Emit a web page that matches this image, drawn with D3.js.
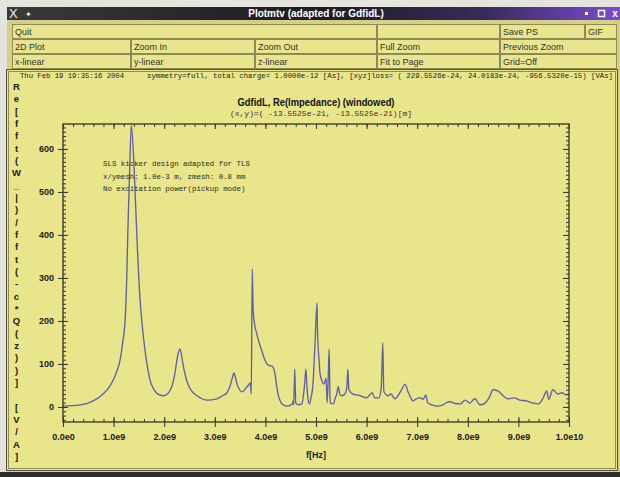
<!DOCTYPE html>
<html>
<head>
<meta charset="utf-8">
<script src="https://cdn.jsdelivr.net/npm/d3@7"></script>
<style>
  body { margin: 0; background: #e4e4dc; }
  svg { display: block; }
</style>
</head>
<body>
<svg id="chart" width="620" height="477"></svg>
<script>
// Re(Impedance), frequency in GHz, value in V/A
const freqGHz = [0.00, 0.20, 0.34, 0.50, 0.59, 0.70, 0.79, 0.90, 0.99, 1.06, 1.13, 1.18, 1.23, 1.26, 1.28, 1.30, 1.32, 1.35,
  1.40, 1.44, 1.47, 1.52, 1.57, 1.62, 1.67, 1.72, 1.79, 1.86, 1.98, 2.05, 2.11, 2.17, 2.21, 2.26, 2.31, 2.34, 2.37, 2.42,
  2.47, 2.55, 2.65, 2.85, 3.04, 3.15, 3.24, 3.30, 3.34, 3.38, 3.41, 3.44, 3.49, 3.54, 3.60, 3.66, 3.70, 3.72, 3.74, 3.76,
  3.79, 3.83, 3.88, 3.93, 3.98, 4.03, 4.08, 4.13, 4.19, 4.22, 4.25, 4.29, 4.33, 4.43, 4.53, 4.55, 4.56, 4.58, 4.60, 4.66,
  4.72, 4.76, 4.78, 4.80, 4.82, 4.84, 4.87, 4.90, 4.94, 4.98, 5.02, 5.03, 5.06, 5.08, 5.12, 5.15, 5.18, 5.20, 5.22, 5.24,
  5.26, 5.28, 5.34, 5.38, 5.41, 5.44, 5.47, 5.51, 5.57, 5.61, 5.63, 5.65, 5.73, 5.80, 5.87, 6.00, 6.06, 6.11, 6.16, 6.24,
  6.29, 6.32, 6.34, 6.42, 6.48, 6.56, 6.62, 6.70, 6.76, 6.82, 6.88, 6.92, 6.98, 7.06, 7.12, 7.17, 7.21, 7.29, 7.40, 7.51,
  7.58, 7.65, 7.75, 7.85, 7.95, 8.04, 8.14, 8.24, 8.34, 8.42, 8.50, 8.60, 8.70, 8.79, 8.92, 9.03, 9.16, 9.29, 9.39, 9.49,
  9.56, 9.60, 9.68, 9.78, 9.86, 9.94, 10.00];
const reImpedance = [2, 3, 5, 9, 14, 21, 30, 44, 62, 82, 110, 150, 207, 300, 400, 485, 560, 655,
  570, 455, 370, 255, 185, 132, 92, 62, 42, 31, 26, 29, 37, 55, 77, 115, 135, 122, 100, 72,
  53, 36, 26, 16, 19, 26, 33, 48, 65, 79, 68, 53, 40, 35, 42, 50, 56, 30, 321, 220,
  190, 170, 148, 130, 112, 100, 96, 95, 77, 50, 30, 15, 7, 2, 7, 14, 5, 88, 9, 5,
  7, 35, 60, 88, 50, 21, 7, 20, 53, 147, 242, 175, 110, 77, 60, 53, 60, 67, 10, 60,
  135, 10, 7, 20, 30, 47, 30, 26, 30, 45, 88, 40, 30, 28, 26, 21, 28, 33, 21, 21,
  45, 149, 37, 26, 30, 19, 26, 42, 53, 35, 20, 14, 19, 21, 18, 28, 9, 5, 2, 5,
  10, 12, 8, 7, 16, 9, 19, 5, 9, 21, 40, 37, 26, 19, 21, 16, 14, 9, 7, 21,
  37, 18, 40, 30, 33, 28, 30];

const xTickValues = [0, 1, 2, 3, 4, 5, 6, 7, 8, 9, 10];
const xTickLabels = ["0.0e0", "1.0e9", "2.0e9", "3.0e9", "4.0e9", "5.0e9", "6.0e9", "7.0e9", "8.0e9", "9.0e9", "1.0e10"];
const yTickValues = [0, 100, 200, 300, 400, 500, 600];

const yLabel = "Re[fft(W_|)/fft(-c*Q(z))] [V/A]";
const title = "GdfidL, Re(Impedance) (windowed)";
const subTitle = "(x,y)=( -13.5525e-21, -13.5525e-21)[m]";
const infoDate = "Thu Feb 19 19:35:16 2004";
const infoRun = "symmetry=full, total charge= 1.0000e-12 [As], [xyz]loss= ( 229.5526e-24, 24.0183e-24, -956.5320e-15) [VAs]";
const notes = ["SLS kicker design adapted for TLS", "x/ymesh: 1.0e-3 m, zmesh: 0.8 mm", "No excitation power(pickup mode)"];

const menuRows = [
  [["Quit", 12, 377], ["", 377, 500], ["Save PS", 500, 585], ["GIF", 585, 617]],
  [["2D Plot", 12, 131], ["Zoom In", 131, 255], ["Zoom Out", 255, 377], ["Full Zoom", 377, 500], ["Previous Zoom", 500, 617]],
  [["x-linear", 12, 131], ["y-linear", 131, 255], ["z-linear", 255, 377], ["Fit to Page", 377, 500], ["Grid=Off", 500, 617]]
];

const svg = d3.select("#chart");
const mono = "'Liberation Mono', 'DejaVu Sans Mono', monospace";
const sans = "'Liberation Sans', Arial, sans-serif";

// window frame
svg.append("rect").attr("x", 7).attr("y", 7).attr("width", 613).attr("height", 470).attr("fill", "#d4d184");

const grad = svg.append("defs").append("linearGradient").attr("id", "tb");
grad.append("stop").attr("offset", "0").attr("stop-color", "#3a3a3a");
grad.append("stop").attr("offset", "0.5").attr("stop-color", "#1c1c22");
grad.append("stop").attr("offset", "0.78").attr("stop-color", "#3a2a5c");
grad.append("stop").attr("offset", "1").attr("stop-color", "#7a4cd0");
svg.append("rect").attr("x", 7).attr("y", 7).attr("width", 613).attr("height", 13).attr("fill", "url(#tb)");
svg.append("text").attr("x", 9).attr("y", 18).attr("fill", "#f0f0f0")
  .style("font", `13px ${sans}`).text("X");
svg.append("text").attr("x", 25).attr("y", 17).attr("fill", "#f0f0f0")
  .style("font", `8px ${sans}`).text("✦");
svg.append("text").attr("x", 316).attr("y", 17).attr("fill", "#ffffff").attr("text-anchor", "middle")
  .style("font", `bold 10px ${sans}`).text("Plotmtv (adapted for GdfidL)");
svg.append("rect").attr("x", 585).attr("y", 12).attr("width", 3).attr("height", 3).attr("fill", "#fff");
svg.append("rect").attr("x", 598.5).attr("y", 10.5).attr("width", 6).attr("height", 6)
  .attr("fill", "none").attr("stroke", "#fff").attr("stroke-width", 1.5);
svg.append("text").attr("x", 615).attr("y", 17).attr("fill", "#fff").attr("text-anchor", "middle")
  .style("font", `bold 10px ${sans}`).text("x");

// menu buttons
const rowTop = [24, 39, 54];
menuRows.forEach((row, i) => {
  const g = svg.append("g");
  g.selectAll("rect").data(row).join("rect")
    .attr("x", d => d[1] + 0.5).attr("y", rowTop[i] + 0.5)
    .attr("width", d => d[2] - d[1] - 1).attr("height", 14)
    .attr("fill", "#e8e58e").attr("stroke", "#8d8a55");
  g.selectAll("text").data(row).join("text")
    .attr("x", d => d[1] + 3).attr("y", rowTop[i] + 11)
    .attr("fill", "#33332a").style("font", `9px ${sans}`)
    .text(d => d[0]);
});

// plot panel
svg.append("rect").attr("x", 6.5).attr("y", 69.5).attr("width", 611).attr("height", 401)
  .attr("fill", "#e8e58a").attr("stroke", "#55553a");
svg.append("rect").attr("x", 8.5).attr("y", 71.5).attr("width", 607).attr("height", 397)
  .attr("fill", "none").attr("stroke", "#8f8c5c");
svg.append("rect").attr("x", 0).attr("y", 472).attr("width", 620).attr("height", 5).attr("fill", "#2c2c28");

svg.append("text").attr("x", 20).attr("y", 78).attr("textLength", 104).attr("lengthAdjust", "spacingAndGlyphs")
  .attr("fill", "#222").style("font", `7.3px ${mono}`).text(infoDate);
svg.append("text").attr("x", 147).attr("y", 78).attr("textLength", 466).attr("lengthAdjust", "spacingAndGlyphs")
  .attr("fill", "#222").style("font", `7.3px ${mono}`).text(infoRun);

// vertical stacked y label
svg.append("g").selectAll("text").data(yLabel.split(""))
  .join("text")
  .attr("x", 16.5).attr("y", (d, i) => 90 + i * 12.33)
  .attr("text-anchor", "middle").attr("fill", "#1a1a1a")
  .style("font", `bold 9.5px ${sans}`)
  .text(d => d);

svg.append("text").attr("x", 316).attr("y", 106).attr("text-anchor", "middle")
  .attr("textLength", 157).attr("lengthAdjust", "spacingAndGlyphs")
  .attr("fill", "#111").style("font", `bold 10px ${sans}`).text(title);
svg.append("text").attr("x", 321).attr("y", 116).attr("text-anchor", "middle")
  .attr("textLength", 182).attr("lengthAdjust", "spacingAndGlyphs")
  .attr("fill", "#333").style("font", `7.5px ${mono}`).text(subTitle);

// scales
const x = d3.scaleLinear().domain([0, 10]).range([63, 569]);
const y = d3.scaleLinear().domain([-35, 658]).range([422, 124]);

svg.append("defs").append("clipPath").attr("id", "clip")
  .append("rect").attr("x", 63).attr("y", 124).attr("width", 506).attr("height", 298);

const data = freqGHz.map((f, i) => [f, reImpedance[i]]);
svg.append("path").datum(data)
  .attr("clip-path", "url(#clip)")
  .attr("fill", "none").attr("stroke", "#6060aa").attr("stroke-width", 1.35)
  .attr("stroke-linejoin", "round")
  .attr("d", d3.line().x(d => x(d[0])).y(d => y(d[1])).curve(d3.curveMonotoneX));

// frame
svg.append("rect").attr("x", 63).attr("y", 124).attr("width", 506).attr("height", 298)
  .attr("fill", "none").attr("stroke", "#222").attr("stroke-width", 1.2);

const xMinor = d3.range(0, 10.01, 0.2);
const yMinor = d3.range(-30, 651, 10);
const tickColor = "#333";

function styleAxis(g) {
  g.select(".domain").remove();
  g.selectAll("line").attr("stroke", tickColor);
}

// minor ticks (inward)
svg.append("g").attr("transform", "translate(0,422)")
  .call(d3.axisTop(x).tickValues(xMinor).tickSize(3).tickFormat("")).call(styleAxis);
svg.append("g").attr("transform", "translate(0,124)")
  .call(d3.axisBottom(x).tickValues(xMinor).tickSize(3).tickFormat("")).call(styleAxis);
svg.append("g").attr("transform", "translate(63,0)")
  .call(d3.axisRight(y).tickValues(yMinor).tickSize(3).tickFormat("")).call(styleAxis);
svg.append("g").attr("transform", "translate(569,0)")
  .call(d3.axisLeft(y).tickValues(yMinor).tickSize(3).tickFormat("")).call(styleAxis);

// major ticks with labels
const bottomAxis = svg.append("g").attr("transform", "translate(0,422)")
  .call(d3.axisBottom(x).tickValues(xTickValues).tickSize(5).tickPadding(7)
    .tickFormat((d, i) => xTickLabels[i]))
  .call(styleAxis);
bottomAxis.selectAll("line").attr("y1", -5);
bottomAxis.selectAll("text").attr("fill", "#1a1a1a").style("font", `bold 9px ${sans}`);

const leftAxis = svg.append("g").attr("transform", "translate(63,0)")
  .call(d3.axisLeft(y).tickValues(yTickValues).tickSize(5).tickPadding(4))
  .call(styleAxis);
leftAxis.selectAll("line").attr("x1", 5);
leftAxis.selectAll("text").attr("fill", "#1a1a1a").style("font", `bold 9px ${sans}`);

svg.append("g").attr("transform", "translate(0,124)")
  .call(d3.axisBottom(x).tickValues(xTickValues).tickSize(5).tickFormat("")).call(styleAxis);
svg.append("g").attr("transform", "translate(569,0)")
  .call(d3.axisLeft(y).tickValues(yTickValues).tickSize(6).tickFormat("")).call(styleAxis);

svg.append("text").attr("x", 316).attr("y", 458).attr("text-anchor", "middle")
  .attr("fill", "#1a1a1a").style("font", `bold 9px ${sans}`).text("f[Hz]");

// notes inside plot
svg.append("g").selectAll("text").data(notes).join("text")
  .attr("x", 103).attr("y", (d, i) => 166 + i * 12.5)
  .attr("textLength", d => d.length * 4.45).attr("lengthAdjust", "spacingAndGlyphs")
  .attr("fill", "#2a2a2a").style("font", `7.3px ${mono}`)
  .text(d => d);
</script>
</body>
</html>
